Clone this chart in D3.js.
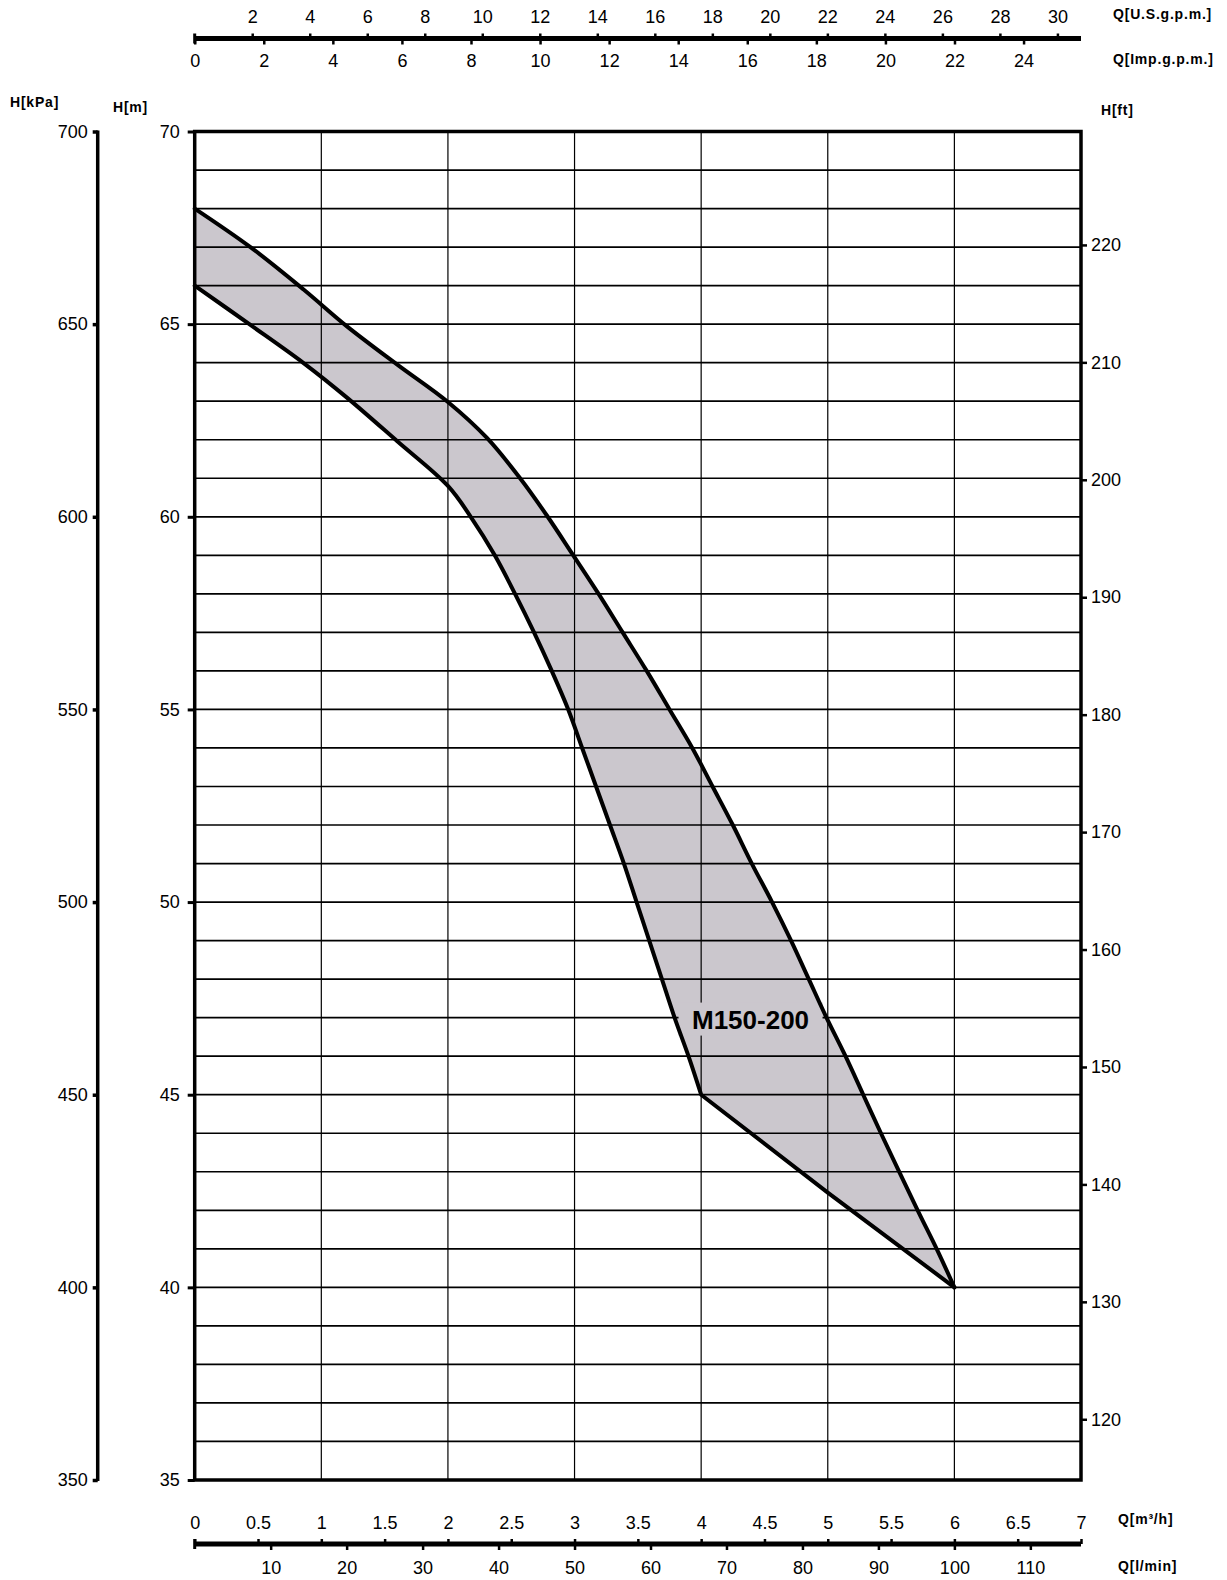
<!DOCTYPE html>
<html>
<head>
<meta charset="utf-8">
<script src="https://cdn.jsdelivr.net/npm/d3@7"></script>
<style>
  html, body { margin: 0; padding: 0; background: #fff; }
  svg { display: block; }
  .tick text { font-family: "Liberation Sans Narrow", "Arial Narrow", "Liberation Sans", sans-serif; font-size: 18px; fill: #000; }
  .ttl { font-family: "Liberation Sans", Arial, sans-serif; font-weight: bold; font-size: 14px; letter-spacing: 0.8px; fill: #000; }
</style>
</head>
<body>
<svg id="chart" width="1227" height="1580"></svg>
<script>
// ---------- data ----------
const upperQ = [0, 0.44, 0.86, 1.2, 1.6, 2.0, 2.31, 2.57, 2.78, 2.99, 3.19, 3.38, 3.57, 3.75, 3.93, 4.09, 4.25, 4.40, 4.56, 4.71, 4.85, 4.99, 5.14, 5.28, 5.42, 5.71, 5.86, 6.0];
const upperH = [68, 67, 65.9, 64.95, 63.95, 62.98, 62.04, 61.0, 60.04, 59, 58, 57, 56, 55, 54, 53, 52, 51, 50, 49, 48, 47, 46, 45, 44, 42, 41, 40];
// lower curve: smooth part up to the corner at Q=4, then straight to Q=6
const lowerQ = [0, 0.44, 0.86, 1.2, 1.6, 2.0, 2.18, 2.37, 2.53, 2.68, 2.82, 2.95, 3.06, 3.17, 3.28, 3.39, 3.49, 3.59, 3.69, 3.79, 3.90, 4.0];
const lowerH = [66, 64.98, 63.99, 63.1, 61.96, 60.8, 60, 59, 58, 57, 56, 55, 54, 53, 52, 51, 50, 49, 48, 47, 46, 45];
const lowerTailQ = [4.0, 5.0, 6.0];
const lowerTailH = [45, 42.46, 40];
const seriesLabel = "M150-200";
const labelQ = 4.39, labelH = 46.95;

const m3hTicks = [0, 0.5, 1, 1.5, 2, 2.5, 3, 3.5, 4, 4.5, 5, 5.5, 6, 6.5, 7];
const lminTicks = [10, 20, 30, 40, 50, 60, 70, 80, 90, 100, 110];
const usGpmTicks = [2, 4, 6, 8, 10, 12, 14, 16, 18, 20, 22, 24, 26, 28, 30];
const impGpmTicks = [0, 2, 4, 6, 8, 10, 12, 14, 16, 18, 20, 22, 24];
const mTicks = [35, 40, 45, 50, 55, 60, 65, 70];
const kpaTicks = [350, 400, 450, 500, 550, 600, 650, 700];
const ftTicks = [120, 130, 140, 150, 160, 170, 180, 190, 200, 210, 220];
const gridQ = [1, 2, 3, 4, 5, 6];
const gridH = d3.range(36, 70);

// unit conversions
const US_GPM = 0.227125, IMP_GPM = 0.272765, LMIN = 0.06, FT = 0.3048;

// ---------- layout ----------
const X0 = 194.7, X1 = 1081, Y70 = 131.5, Y35 = 1480;
const x = d3.scaleLinear().domain([0, 7]).range([X0, X1]);
const y = d3.scaleLinear().domain([35, 70]).range([Y35, Y70]);
const xUS = d3.scaleLinear().domain([0, 7 / US_GPM]).range([X0, X1]);
const xImp = d3.scaleLinear().domain([0, 7 / IMP_GPM]).range([X0, X1]);
const xL = d3.scaleLinear().domain([0, 7 / LMIN]).range([X0, X1]);
const yKpa = d3.scaleLinear().domain([350, 700]).range([Y35, Y70]);
const yFt = d3.scaleLinear().domain([35 / FT, 70 / FT]).range([Y35, Y70]);

const svg = d3.select("#chart");

const upperPts = upperQ.map((q, i) => [q, upperH[i]]);
const lowerPts = lowerQ.map((q, i) => [q, lowerH[i]]);
const tailPts = lowerTailQ.map((q, i) => [q, lowerTailH[i]]);
const smooth = d3.line().x(d => x(d[0])).y(d => y(d[1])).curve(d3.curveCatmullRom.alpha(0.5));
const straight = d3.line().x(d => x(d[0])).y(d => y(d[1]));

// ---------- fill ----------
const fillD = straight(tailPts.slice().reverse())
  + smooth(lowerPts.slice().reverse()).replace(/^M/, "L")
  + smooth(upperPts).replace(/^M/, "L")
  + "Z";
svg.append("path").attr("d", fillD).attr("fill", "#cbc7cd");

// ---------- grid ----------
const g = svg.append("g");
g.selectAll(".hg").data(gridH).join("line")
  .attr("x1", X0).attr("x2", X1)
  .attr("y1", d => y(d)).attr("y2", d => y(d))
  .attr("stroke", "#000").attr("stroke-width", 1.7);
g.selectAll(".vg").data(gridQ).join("line")
  .attr("y1", Y70).attr("y2", Y35)
  .attr("x1", d => x(d)).attr("x2", d => x(d))
  .attr("stroke", "#000").attr("stroke-width", 1.2);

// ---------- label background (hides grid) ----------
const lx = x(labelQ), ly = y(labelH);
svg.append("rect").attr("x", lx - 72).attr("y", ly - 17).attr("width", 144).attr("height", 33)
  .attr("fill", "#cbc7cd");

// ---------- curves ----------
function curve(d) {
  svg.append("path").attr("d", d)
    .attr("fill", "none").attr("stroke", "#000")
    .attr("stroke-width", 4).attr("stroke-linejoin", "round").attr("stroke-linecap", "round");
}
curve(smooth(upperPts));
curve(smooth(lowerPts) + straight(tailPts).replace(/^M/, "L"));

// ---------- plot frame ----------
svg.append("rect").attr("x", X0).attr("y", Y70).attr("width", X1 - X0).attr("height", Y35 - Y70)
  .attr("fill", "none").attr("stroke", "#000").attr("stroke-width", 3.5);

// ---------- label ----------
svg.append("text").attr("x", lx).attr("y", ly).attr("dy", "0.36em")
  .attr("text-anchor", "middle")
  .attr("font-family", "Liberation Sans, Arial, sans-serif").attr("font-weight", "bold")
  .attr("font-size", 26).text(seriesLabel);

// ---------- axes ----------
function styleAxis(sel, sw) {
  sel.select(".domain").remove();
  sel.selectAll(".tick line").attr("stroke", "#000").attr("stroke-width", sw);
}
// H[m]
svg.append("g").attr("transform", `translate(${X0},0)`)
  .call(d3.axisLeft(y).tickValues(mTicks).tickSize(7).tickPadding(8).tickFormat(d => d))
  .call(s => styleAxis(s, 3));
// H[ft]
svg.append("g").attr("transform", `translate(${X1},0)`)
  .call(d3.axisRight(yFt).tickValues(ftTicks).tickSize(6).tickPadding(4).tickFormat(d => d))
  .call(s => styleAxis(s, 2.5));
// H[kPa]
const KX = 97.7;
svg.append("line").attr("x1", KX).attr("x2", KX).attr("y1", Y70 - 1).attr("y2", Y35 + 1)
  .attr("stroke", "#000").attr("stroke-width", 3.5);
svg.append("g").attr("transform", `translate(${KX},0)`)
  .call(d3.axisLeft(yKpa).tickValues(kpaTicks).tickSize(5).tickPadding(5).tickFormat(d => d))
  .call(s => styleAxis(s, 3.5));

// top axis (US gpm above, Imp gpm below)
const TY = 38.5;
svg.append("line").attr("x1", X0).attr("x2", X1).attr("y1", TY).attr("y2", TY)
  .attr("stroke", "#000").attr("stroke-width", 5);
svg.append("line").attr("x1", X0).attr("x2", X0).attr("y1", TY - 5).attr("y2", TY + 5)
  .attr("stroke", "#000").attr("stroke-width", 3);
svg.append("g").attr("transform", `translate(0,${TY})`)
  .call(d3.axisTop(xUS).tickValues(usGpmTicks).tickSize(5).tickPadding(11).tickFormat(d => d))
  .call(s => styleAxis(s, 2.5));
svg.append("g").attr("transform", `translate(0,${TY})`)
  .call(d3.axisBottom(xImp).tickValues(impGpmTicks).tickSize(6).tickPadding(10).tickFormat(d => d))
  .call(s => styleAxis(s, 2.5));

// bottom axis (m3/h above, l/min below)
const BY = 1544;
svg.append("line").attr("x1", X0).attr("x2", X1).attr("y1", BY).attr("y2", BY)
  .attr("stroke", "#000").attr("stroke-width", 5);
svg.append("line").attr("x1", X0).attr("x2", X0).attr("y1", BY - 5).attr("y2", BY + 5)
  .attr("stroke", "#000").attr("stroke-width", 3);
svg.append("g").attr("transform", `translate(0,${BY})`)
  .call(d3.axisTop(x).tickValues(m3hTicks).tickSize(5).tickPadding(10).tickFormat(d => d))
  .call(s => styleAxis(s, 2.5));
svg.append("g").attr("transform", `translate(0,${BY})`)
  .call(d3.axisBottom(xL).tickValues(lminTicks).tickSize(6).tickPadding(11).tickFormat(d => d))
  .call(s => styleAxis(s, 2.5));

// ---------- axis titles ----------
const titles = [
  ["Q[U.S.g.p.m.]", 1113, 19],
  ["Q[Imp.g.p.m.]", 1113, 64],
  ["H[kPa]", 10, 107],
  ["H[m]", 113, 112],
  ["H[ft]", 1101, 115],
  ["Q[m³/h]", 1118, 1524],
  ["Q[l/min]", 1118, 1571]
];
svg.selectAll(".ttl").data(titles).join("text").attr("class", "ttl")
  .attr("x", d => d[1]).attr("y", d => d[2]).text(d => d[0]);
</script>
</body>
</html>
